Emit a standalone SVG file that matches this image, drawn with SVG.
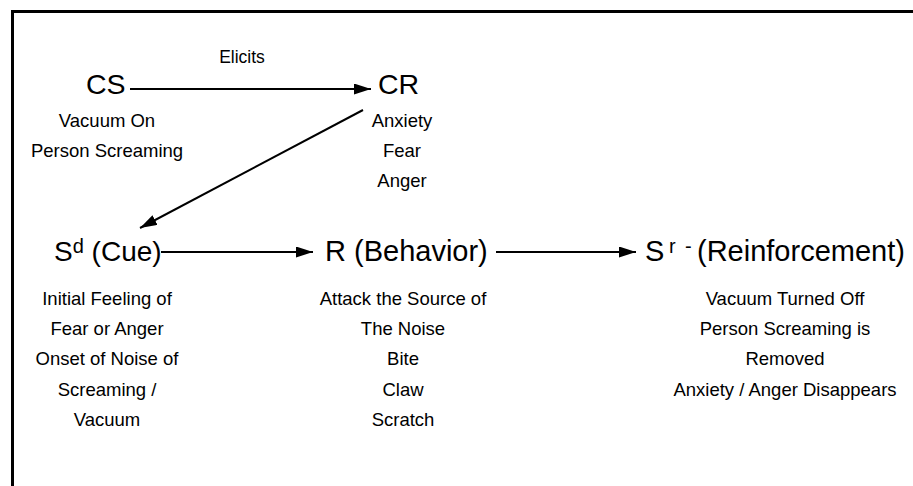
<svg xmlns="http://www.w3.org/2000/svg" width="913" height="486" viewBox="0 0 913 486">
<style>
text{font-family:"Liberation Sans",Arial,sans-serif;fill:#000}
.h{font-size:28.5px}
.b{font-size:18.5px;text-anchor:middle}
.sup{font-size:20px}
.lbl{font-size:17.5px;text-anchor:middle}
.c{stroke:#000;stroke-width:2;fill:none;marker-end:url(#ah)}
</style>
<defs>
<marker id="ah" markerUnits="userSpaceOnUse" markerWidth="18" markerHeight="12" refX="17" refY="5.5" orient="auto">
<path d="M0,0 L17,5.5 L0,11 z" fill="#000"/>
</marker>
</defs>
<rect width="913" height="486" fill="#fff"/>
<path d="M12.5 486 V11.5 H913" fill="none" stroke="#000" stroke-width="3"/>
<g id="connectors">
<line class="c" x1="130" y1="89" x2="371" y2="89"/>
<text class="lbl" x="242" y="63">Elicits</text>
<line class="c" x1="363" y1="110" x2="140" y2="228"/>
<line class="c" x1="161" y1="252" x2="313" y2="252"/>
<line class="c" x1="496" y1="252" x2="636" y2="252"/>
</g>
<g id="cs">
<text class="h" x="86" y="94">CS</text>
<text class="b" x="107" y="127">Vacuum On</text>
<text class="b" x="107" y="157">Person Screaming</text>
</g>
<g id="cr">
<text class="h" x="378" y="94">CR</text>
<text class="b" x="402" y="127">Anxiety</text>
<text class="b" x="402" y="157">Fear</text>
<text class="b" x="402" y="187">Anger</text>
</g>
<g id="sd">
<text class="h" x="54" y="261" style="font-size:28px">S<tspan class="sup" dy="-8">d</tspan><tspan dy="8"> (Cue)</tspan></text>
<text class="b" x="107" y="305">Initial Feeling of</text>
<text class="b" x="107" y="335">Fear or Anger</text>
<text class="b" x="107" y="365">Onset of Noise of</text>
<text class="b" x="107" y="396">Screaming /</text>
<text class="b" x="107" y="426">Vacuum</text>
</g>
<g id="r">
<text class="h" x="325" y="261" style="font-size:29px">R (Behavior)</text>
<text class="b" x="403" y="305">Attack the Source of</text>
<text class="b" x="403" y="335">The Noise</text>
<text class="b" x="403" y="365">Bite</text>
<text class="b" x="403" y="396">Claw</text>
<text class="b" x="403" y="426">Scratch</text>
</g>
<g id="sr">
<text class="h" x="645" y="261" style="font-size:29px">S<tspan class="sup" x="669" dy="-8">r</tspan><tspan class="sup" x="685">-</tspan><tspan x="697" dy="8">(Reinforcement)</tspan></text>
<text class="b" x="785" y="305">Vacuum Turned Off</text>
<text class="b" x="785" y="335">Person Screaming is</text>
<text class="b" x="785" y="365">Removed</text>
<text class="b" x="785" y="396">Anxiety / Anger Disappears</text>
</g>
</svg>
